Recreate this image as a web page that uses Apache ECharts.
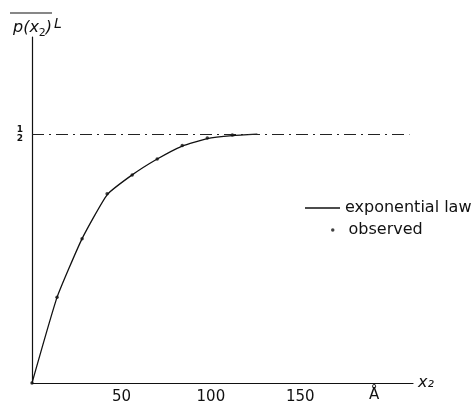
<!DOCTYPE html>
<html>
<head>
<meta charset="UTF-8">
<title>p(x2)L</title>
<script src="https://cdn.jsdelivr.net/npm/echarts@6/dist/echarts.min.js"></script>
<style>
  html, body { margin: 0; padding: 0; background: #fff; }
  #main { width: 474px; height: 408px; }
</style>
</head>
<body>
<div id="main"></div>
<script>
// values
const xObserved = [0, 14, 28, 42, 56, 70, 84, 98, 112];
const yObserved = [0, 0.172, 0.29, 0.38, 0.418, 0.45, 0.477, 0.492, 0.498];
const xLaw = [0, 14, 28, 42, 56, 70, 84, 98, 112, 126];
const yLaw = [0, 0.172, 0.29, 0.378, 0.418, 0.45, 0.476, 0.491, 0.497, 0.5];
const xTickLabels = [50, 100, 150];
const halfLevel = 0.5;

const font = 'DejaVu Sans';
const ink = '#111';

let chart = echarts.init(document.getElementById('main'));

let option = {
    backgroundColor: '#fff',
    animation: false,
    title: {
        text: '{a|p(x}{s|2}{a|)}{l|L}',
        left: 8,
        top: 12,
        textStyle: {
            rich: {
                a: { fontFamily: font, fontStyle: 'italic', fontWeight: 'normal', fontSize: 16, color: ink, lineHeight: 22, verticalAlign: 'middle' },
                s: { fontFamily: font, fontWeight: 'normal', fontSize: 11, color: ink, verticalAlign: 'bottom', lineHeight: 22 },
                l: { fontFamily: font, fontStyle: 'italic', fontWeight: 'normal', fontSize: 14, color: ink, verticalAlign: 'top', lineHeight: 22, padding: [0, 0, 0, 2] }
            }
        }
    },
    graphic: [
        // overline over p(x2)
        { type: 'line', shape: { x1: 10, y1: 13, x2: 52, y2: 13 }, style: { stroke: ink, lineWidth: 1.2 } },
        { type: 'text', left: 369, top: 388, style: { text: 'Å', font: '15px "DejaVu Sans"', fill: ink } }
    ],
    legend: [
        {
            data: ['exponential law'],
            left: 300,
            top: 195,
            icon: 'rect',
            itemWidth: 35,
            itemHeight: 1.5,
            itemGap: 0,
            textStyle: { fontFamily: font, fontSize: 16, color: ink },
            itemStyle: { color: ink }
        },
        {
            data: ['observed'],
            left: 326,
            top: 217,
            icon: 'circle',
            itemWidth: 3.5,
            itemHeight: 3.5,
            textStyle: { fontFamily: font, fontSize: 16, color: ink, padding: [0, 0, 0, 9] },
            itemStyle: { color: ink }
        }
    ],
    grid: { left: 32, right: 61, top: 37, bottom: 25 },
    xAxis: {
        type: 'value',
        min: 0,
        max: 213,
        interval: 50,
        name: 'x₂',
        nameGap: 5,
        nameTextStyle: { fontFamily: font, fontStyle: 'italic', fontSize: 16, color: ink },
        splitLine: { show: false },
        axisLine: { lineStyle: { color: ink, width: 1.2 } },
        axisTick: { show: false },
        axisLabel: {
            fontFamily: font,
            fontSize: 15,
            color: ink,
            margin: 7,
            showMaxLabel: false,
            formatter: function (v) { return xTickLabels.indexOf(v) >= 0 ? String(v) : ''; }
        }
    },
    yAxis: {
        type: 'value',
        min: 0,
        max: 0.695,
        interval: 0.5,
        splitLine: { show: false },
        axisLine: { lineStyle: { color: ink, width: 1.2 } },
        axisTick: { show: false },
        axisLabel: {
            margin: 9,
            showMaxLabel: false,
            formatter: function (v) { return v === halfLevel ? '{n|1}\n{d|2}' : ''; },
            rich: {
                n: { fontFamily: font, fontSize: 9, fontWeight: 'bold', color: ink, lineHeight: 9, align: 'center' },
                d: { fontFamily: font, fontSize: 9, fontWeight: 'bold', color: ink, lineHeight: 9, align: 'center' }
            }
        }
    },
    series: [
        {
            name: 'exponential law',
            type: 'line',
            data: xLaw.map((x, i) => [x, yLaw[i]]),
            smooth: 0.15,
            showSymbol: false,
            lineStyle: { color: ink, width: 1.3 },
            itemStyle: { color: ink },
            markLine: {
                silent: true,
                symbol: 'none',
                label: { show: false },
                lineStyle: { color: '#222', width: 1, type: [12, 5, 2, 5] },
                data: [[{ coord: [0, halfLevel] }, { coord: [211, halfLevel] }]]
            },
            z: 3
        },
        {
            name: 'observed',
            type: 'scatter',
            data: xObserved.map((x, i) => [x, yObserved[i]]),
            symbol: 'circle',
            symbolSize: 3.5,
            itemStyle: { color: ink },
            z: 4
        }
    ]
};

chart.setOption(option);
</script>
</body>
</html>
